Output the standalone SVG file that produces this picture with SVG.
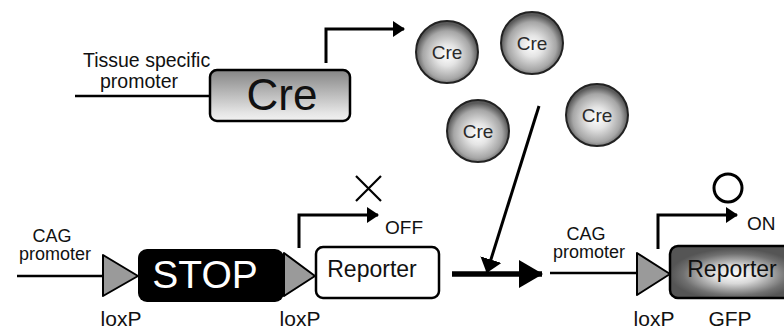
<svg xmlns="http://www.w3.org/2000/svg" width="784" height="329" viewBox="0 0 784 329">
<defs>
<linearGradient id="creGrad" x1="0" y1="0" x2="0" y2="1">
<stop offset="0" stop-color="#858585"/>
<stop offset="0.85" stop-color="#e6e6e6"/>
<stop offset="1" stop-color="#f2f2f2"/>
</linearGradient>
<radialGradient id="ballGrad" cx="0.5" cy="0.55" r="0.5">
<stop offset="0" stop-color="#ffffff"/>
<stop offset="0.35" stop-color="#e4e4e4"/>
<stop offset="0.78" stop-color="#a6a6a6"/>
<stop offset="1" stop-color="#5a5a5a"/>
</radialGradient>
<radialGradient id="gfpGrad" cx="0.5" cy="0.55" r="0.5">
<stop offset="0" stop-color="#ffffff"/>
<stop offset="0.35" stop-color="#d8d8d8"/>
<stop offset="0.8" stop-color="#707070"/>
<stop offset="1" stop-color="#555555"/>
</radialGradient>
<marker id="ah" viewBox="0 0 12 16" refX="11" refY="8" markerWidth="12" markerHeight="16" markerUnits="userSpaceOnUse" orient="auto">
<path d="M0,0 L12,8 L0,16 Z" fill="#000"/>
</marker>
<marker id="ahBig" viewBox="0 0 24 28" refX="23" refY="14" markerWidth="24" markerHeight="28" markerUnits="userSpaceOnUse" orient="auto">
<path d="M0,0 L24,14 L0,28 Z" fill="#000"/>
</marker>
<marker id="ahDiag" viewBox="0 0 14 22" refX="13" refY="11" markerWidth="14" markerHeight="22" markerUnits="userSpaceOnUse" orient="auto">
<path d="M0,0 L14,11 L0,22 Z" fill="#000"/>
</marker>
</defs>
<style>
text { font-family: "Liberation Sans", Arial, sans-serif; fill: #111; }
.lbl { font-size: 19px; }
.sm { font-size: 18px; }
.ln { stroke: #000; stroke-width: 2.5; fill: none; }
.arr { stroke: #000; stroke-width: 3; fill: none; }
.lox { fill: #9a9a9a; stroke: #000; stroke-width: 2; stroke-linejoin: round; }
.ball { fill: url(#ballGrad); stroke: #222; stroke-width: 2; }
.bt { font-size: 19px; text-anchor: middle; fill: #2a2a2a; }
.lx { font-size: 21px; text-anchor: middle; }
</style>

<g id="connectors">
<line class="ln" x1="75" y1="96" x2="211" y2="96"/>
<path class="arr" d="M326,63 V29 H404" marker-end="url(#ah)"/>
<line class="ln" x1="17" y1="276" x2="104" y2="276"/>
<path class="arr" d="M299,248 V215 H378" marker-end="url(#ah)"/>
<line x1="539" y1="106" x2="487" y2="272" stroke="#000" stroke-width="3" marker-end="url(#ahDiag)"/>
<line x1="452" y1="274" x2="542" y2="274" stroke="#000" stroke-width="5.5" marker-end="url(#ahBig)"/>
<line class="ln" x1="550" y1="273" x2="638" y2="273"/>
<path class="arr" d="M658,249 V215 H737" marker-end="url(#ah)"/>
</g>

<g id="tissue-promoter-label">
<text x="83" y="67" font-size="19.5">Tissue specific</text>
<text x="100" y="88" font-size="19.5">promoter</text>
</g>

<g id="cre-gene">
<rect x="210" y="70" width="140" height="51" rx="7" fill="url(#creGrad)" stroke="#000" stroke-width="2.5"/>
<text x="282" y="110" font-size="44" text-anchor="middle">Cre</text>
</g>

<g id="cre-1"><circle class="ball" cx="447" cy="52" r="31"/><text class="bt" x="447" y="59">Cre</text></g>
<g id="cre-2"><circle class="ball" cx="532" cy="43" r="31"/><text class="bt" x="532" y="50">Cre</text></g>
<g id="cre-3"><circle class="ball" cx="478" cy="131" r="31"/><text class="bt" x="478" y="138">Cre</text></g>
<g id="cre-4"><circle class="ball" cx="597" cy="115" r="31"/><text class="bt" x="597" y="122">Cre</text></g>

<g id="cag-label-1">
<text class="sm" x="52" y="242" text-anchor="middle">CAG</text>
<text class="sm" x="55" y="260" text-anchor="middle">promoter</text>
</g>

<g id="loxp-1">
<path class="lox" d="M103,255 L138,276 L103,296 Z"/>
<text class="lx" x="121" y="326">loxP</text>
</g>

<g id="stop">
<rect x="138" y="249" width="146" height="53" rx="9" fill="#000"/>
<text x="205" y="288" font-size="39" text-anchor="middle" style="fill:#fff">STOP</text>
</g>

<g id="loxp-2">
<path class="lox" d="M284,253 L315,276 L284,296 Z"/>
<text class="lx" x="300" y="326">loxP</text>
</g>

<g id="reporter-off">
<rect x="316" y="247" width="123" height="51" rx="7" fill="#fff" stroke="#000" stroke-width="2.5"/>
<text x="372" y="277" font-size="23" text-anchor="middle">Reporter</text>
</g>

<g id="off-mark">
<path d="M356,176 L381,201 M381,176 L356,201" stroke="#000" stroke-width="2.2" fill="none"/>
<text class="lbl" x="385" y="234">OFF</text>
</g>

<g id="cag-label-2">
<text class="sm" x="586" y="240" text-anchor="middle">CAG</text>
<text class="sm" x="589" y="258" text-anchor="middle">promoter</text>
</g>

<g id="loxp-3">
<path class="lox" d="M637,253 L670,274 L637,295 Z"/>
<text class="lx" x="654" y="326">loxP</text>
</g>

<g id="reporter-on">
<rect x="670" y="246" width="130" height="52" rx="8" fill="url(#gfpGrad)" stroke="#000" stroke-width="2.5"/>
<text x="732" y="277" font-size="23" text-anchor="middle">Reporter</text>
<text class="lx" x="730" y="326">GFP</text>
</g>

<g id="on-mark">
<circle cx="728" cy="188" r="14" fill="none" stroke="#000" stroke-width="3"/>
<text class="lbl" x="747" y="230">ON</text>
</g>
</svg>
